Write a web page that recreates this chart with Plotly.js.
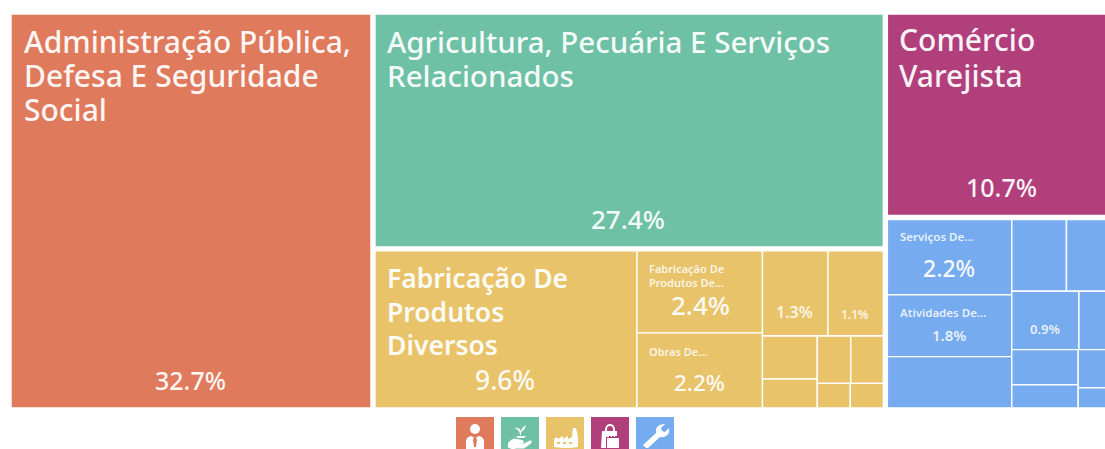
<!DOCTYPE html>
<html><head><meta charset="utf-8">
<script src="https://cdn.plot.ly/plotly-3.0.1.min.js"></script>
<style>html,body{margin:0;padding:0;background:#fff;overflow:hidden;width:1105px;height:449px}#c{width:1120px;height:449px}</style>
</head><body><div id="c"></div>
<script>
const groups = ["Administração Pública, Defesa E Seguridade Social","Agropecuária","Indústria","Comércio","Serviços"];
const groupColors = ["#DF7A5D","#6EC1A5","#E8C36A","#B13F7C","#76ABEF"];
const admLeaves = ["Administração Pública, Defesa E Seguridade Social"];
const admValues = [32.7];
const agrLeaves = ["Agricultura, Pecuária E Serviços Relacionados"];
const agrValues = [27.4];
const indLeaves = ["Fabricação De Produtos Diversos","Fabricação De Produtos De...","Obras De...","Indústria 4","Indústria 5","Indústria 6","Indústria 7","Indústria 8","Indústria 9","Indústria 10","Indústria 11"];
const indValues = [9.6,2.4,2.2,1.3,1.1,0.55,0.37,0.37,0.36,0.19,0.19];
const comLeaves = ["Comércio Varejista"];
const comValues = [10.7];
const serLeaves = ["Serviços De...","Atividades De...","Serviços 3","Serviços 4","Serviços 5","Serviços 6","Serviços 7","Serviços 8","Serviços 9","Serviços 10","Serviços 11"];
const serValues = [2.2,1.8,1.5,0.92,0.80,0.92,0.48,0.55,0.36,0.32,0.17];

const W = 1120, H = 449;
const ids=["root"], labels=[""], parents=[""], values=[0], colors=["#ffffff"], widths=[0];
[[admLeaves,admValues],[agrLeaves,agrValues],[indLeaves,indValues],[comLeaves,comValues],[serLeaves,serValues]].forEach(([ls,vs],g)=>{
  const gid="g"+g, sum=vs.reduce((a,b)=>a+b,0);
  ids.push(gid);labels.push(groups[g]);parents.push("root");values.push(sum);colors.push("#ffffff");widths.push(0);
  ls.forEach((l,i)=>{ids.push(gid+"-"+i);labels.push(l);parents.push(gid);values.push(vs[i]);colors.push(groupColors[g]);widths.push(1.4);});
});
values[0]=values.slice(1).filter((v,i)=>parents[i+1]==="root").reduce((a,b)=>a+b,0);

const trace={type:"treemap",ids,labels,parents,values,branchvalues:"total",sort:false,
  textinfo:"none",texttemplate:"",textfont:{color:"rgba(0,0,0,0)",size:1},hovertemplate:"%{label}<br>%{value}%<extra></extra>",
  tiling:{packing:"squarify",squarifyratio:1.618,pad:0},
  pathbar:{visible:false},
  marker:{colors,line:{color:"#ffffff",width:widths},pad:{t:2,l:2,r:2,b:2}},
  domain:{x:[7/W,1118/W],y:[1-412/H,1-10/H]}};

const F="'Noto Sans',sans-serif";
const ann=[];
function txt(x,y,s,size,anchor,weight,color){ann.push({xref:"paper",yref:"paper",x:x/W,y:1-y/H,text:s,showarrow:false,xanchor:anchor,yanchor:"middle",font:{family:F,size,color:color||"rgba(255,255,255,0.95)",weight:weight||500},borderpad:0});}
function block(x,y,lh,lines,size,weight,color){lines.forEach((s,i)=>txt(x,y+i*lh,s,size,"left",weight,color));}
const soft="rgba(255,255,255,0.85)";
block(23,41,34,["Administração Pública,","Defesa E Seguridade","Social"],30);
txt(190,380,"32.7%",25,"center",500);
block(386,41,34,["Agricultura, Pecuária E Serviços","Relacionados"],29.5);
txt(628,219,"27.4%",26,"center",500);
block(898,40,35,["Comércio","Varejista"],30);
txt(1001,187,"10.7%",25,"center",500);
block(386,278,33.5,["Fabricação De","Produtos","Diversos"],26.5,600);
txt(505,380,"9.6%",26.5,"center",500);
block(648,268,14,["Fabricação De","Produtos De..."],11,600,soft);
txt(700,305,"2.4%",26,"center",500);
block(648,351,14,["Obras De..."],11,600,soft);
txt(699,382,"2.2%",22.5,"center",500);
txt(794,312,"1.3%",16,"center",600,soft);
txt(855,314,"1.1%",12,"center",600,soft);
block(899,236,14,["Serviços De..."],11.5,600,soft);
txt(949,268,"2.2%",23,"center",500);
block(899,312,14,["Atividades De..."],11.5,600,soft);
txt(949,335,"1.8%",15,"center",600,soft);
txt(1045,329,"0.9%",13,"center",600,soft);

const icon=(body)=>"data:image/svg+xml;utf8,"+encodeURIComponent('<svg xmlns="http://www.w3.org/2000/svg" viewBox="0 0 38 38" fill="#fff">'+body+'</svg>');
const icons=[
 '<circle cx="19" cy="12" r="5"/><path d="M10 32v-7q0-5 5-6l4 2 4-2q5 1 5 6v7z"/><path d="M18 20h2l1 3-1 7h-2l-1-7z" fill="#DF7A5D"/>',
 '<path d="M19 17q-1-5-6-6 5-1 7 3 1-4 5-6-1 5-5 7v3h-1z"/><path d="M7 26q5-6 9-4l5 1q3 1 1 3h-5l6 .5 6-3q3 0 1 3l-7 5H15l-3 1-5-2z"/><path d="M15 19h10l-2 2h-6z"/>',
 '<path d="M8 30v-8l3-2 1 2 5-3v3l5-3v3l4-2 1-9h3l2 9v10q-12 2-24 0z"/><rect x="11" y="25" width="3" height="2" fill="#E8C36A"/><rect x="17" y="25" width="3" height="2" fill="#E8C36A"/><rect x="23" y="25" width="3" height="2" fill="#E8C36A"/>',
 '<path d="M11 14h3v-2q1-5 5-5t5 5v2h2v5h-8v12h-8zM16 14h6v-2q0-3-3-3t-3 3z"/><rect x="15.500" y="20.500" width="13" height="11" fill="#fff" stroke="#B13F7C"/><path d="M20 20v-2q0-2 2-2t2 2v2h-1v-2q0-1-1-1t-1 1v2z"/>',
 '<path d="M10 31l-3-3 13-12q-1-6 4-8 2-1 5-1l-4 4 1 3 3 1 4-4q1 6-3 8-3 2-6 1L12 31z"/>'
];
const boxX=[456,501,546,591,636];
const shapes=[],images=[];
boxX.forEach((x,i)=>{
  shapes.push({type:"rect",xref:"paper",yref:"paper",x0:x/W,x1:(x+38)/W,y0:0,y1:1-417/H,fillcolor:groupColors[i],line:{width:0},layer:"below"});
  images.push({source:icon(icons[i]),xref:"paper",yref:"paper",x:x/W,y:1-417/H,sizex:38/W,sizey:38/H,sizing:"stretch",xanchor:"left",yanchor:"top",layer:"above"});
});

Plotly.newPlot("c",[trace],{width:W,height:H,margin:{l:0,r:0,t:0,b:0,pad:0},paper_bgcolor:"#ffffff",annotations:ann,shapes,images,showlegend:false},{displayModeBar:false,staticPlot:true});
</script></body></html>
